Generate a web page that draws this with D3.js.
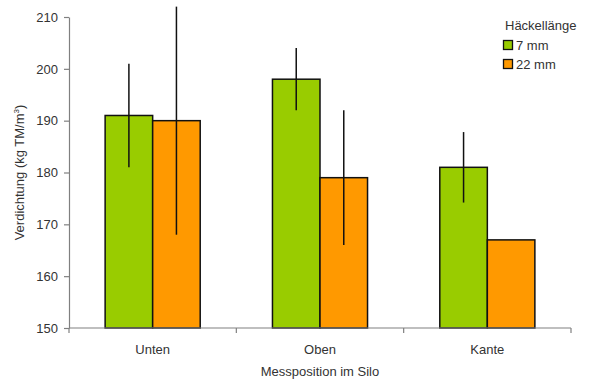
<!DOCTYPE html>
<html>
<head>
<meta charset="utf-8">
<script src="https://cdn.jsdelivr.net/npm/d3@7"></script>
<style>
  html, body { margin: 0; padding: 0; background: #fff; }
  svg { display: block; font-family: "Liberation Sans", Arial, sans-serif; }
</style>
</head>
<body>
<svg id="chart" width="596" height="380"></svg>
<script>
// Compaction by measuring position and chop length
const categories = ["Unten", "Oben", "Kante"];
const seriesNames = ["7 mm", "22 mm"];
const values7mm = [191, 198, 181];
const values22mm = [190, 179, 167];
const err7mm = [10, 6, 6.8];
const err22mm = [22, 13, 0];
const yTicks = [150, 160, 170, 180, 190, 200, 210];
const colors = ["#99cc00", "#ff9900"];

const svg = d3.select("#chart");
const margin = { left: 69, right: 25, top: 17, bottom: 52 };
const W = 596, H = 380;

const x = d3.scaleBand().domain(categories).range([margin.left, W - margin.right]).paddingInner(0).paddingOuter(0);
const x1 = d3.scaleBand().domain(seriesNames).range([0, x.bandwidth()]).paddingInner(0).paddingOuter(0.76);
const y = d3.scaleLinear().domain([150, 210]).range([H - margin.bottom, margin.top]);

const series = [
  { name: seriesNames[0], values: values7mm, err: err7mm, color: colors[0] },
  { name: seriesNames[1], values: values22mm, err: err22mm, color: colors[1] }
];

// bars
series.forEach(s => {
  svg.append("g").selectAll("rect").data(categories).join("rect")
    .attr("x", (c) => x(c) + x1(s.name))
    .attr("y", (c, i) => y(s.values[i]))
    .attr("width", x1.bandwidth())
    .attr("height", (c, i) => y(150) - y(s.values[i]))
    .attr("fill", s.color)
    .attr("stroke", "#111")
    .attr("stroke-width", 1.5);
});

// error bars
series.forEach(s => {
  svg.append("g").selectAll("line").data(categories.filter((c, i) => s.err[i] > 0)).join("line")
    .attr("x1", c => x(c) + x1(s.name) + x1.bandwidth() / 2)
    .attr("x2", c => x(c) + x1(s.name) + x1.bandwidth() / 2)
    .attr("y1", c => { const i = categories.indexOf(c); return y(s.values[i] + s.err[i]); })
    .attr("y2", c => { const i = categories.indexOf(c); return y(s.values[i] - s.err[i]); })
    .attr("stroke", "#111")
    .attr("stroke-width", 1.5);
});

// y axis
const yAxis = svg.append("g").attr("transform", `translate(${margin.left},0)`)
  .call(d3.axisLeft(y).tickValues(yTicks).tickSize(5).tickSizeOuter(0).tickPadding(6));
yAxis.select(".domain").attr("stroke", "#808080").attr("stroke-width", 1.2);
yAxis.selectAll(".tick line").attr("stroke", "#808080").attr("stroke-width", 1.2);
yAxis.selectAll("text").attr("font-size", 13).attr("fill", "#333").attr("font-family", "Liberation Sans, Arial, sans-serif");

// x axis with boundary ticks between categories
const xAxisG = svg.append("g").attr("transform", `translate(0,${y(150)})`);
xAxisG.append("line").attr("x1", margin.left).attr("x2", W - margin.right)
  .attr("stroke", "#808080").attr("stroke-width", 1.2);
const bounds = categories.map(c => x(c)).concat([x(categories[categories.length - 1]) + x.bandwidth()]);
xAxisG.selectAll("line.tk").data(bounds).join("line").attr("class", "tk")
  .attr("x1", d => d).attr("x2", d => d).attr("y1", 0).attr("y2", 5)
  .attr("stroke", "#808080").attr("stroke-width", 1.2);
xAxisG.selectAll("text").data(categories).join("text")
  .attr("x", c => x(c) + x.bandwidth() / 2)
  .attr("y", 26)
  .attr("text-anchor", "middle")
  .attr("font-size", 13).attr("fill", "#333")
  .text(c => c);

// axis titles
svg.append("text")
  .attr("x", x(categories[1]) + x.bandwidth() / 2)
  .attr("y", 376)
  .attr("text-anchor", "middle")
  .attr("font-size", 13).attr("fill", "#333")
  .text("Messposition im Silo");

const yt = svg.append("text")
  .attr("transform", `translate(24,${(y(150) + y(210)) / 2}) rotate(-90)`)
  .attr("text-anchor", "middle")
  .attr("font-size", 13).attr("fill", "#333");
yt.append("tspan").text("Verdichtung (kg TM/m");
yt.append("tspan").attr("font-size", 8).attr("dy", -5).text("3");
yt.append("tspan").attr("dy", 5).text(")");

// legend
const lg = svg.append("g").attr("transform", "translate(503,0)");
lg.append("text").attr("x", 2).attr("y", 30).attr("font-size", 13).attr("fill", "#333").text("Häckellänge");
series.forEach((s, i) => {
  const row = lg.append("g").attr("transform", `translate(0,${40 + i * 19})`);
  row.append("rect").attr("x", 0.5).attr("y", 0.5).attr("width", 9).attr("height", 9)
    .attr("fill", s.color).attr("stroke", "#111").attr("stroke-width", 1.3);
  row.append("text").attr("x", 13).attr("y", 9.5).attr("font-size", 13).attr("fill", "#333").text(s.name);
});
</script>
</body>
</html>
